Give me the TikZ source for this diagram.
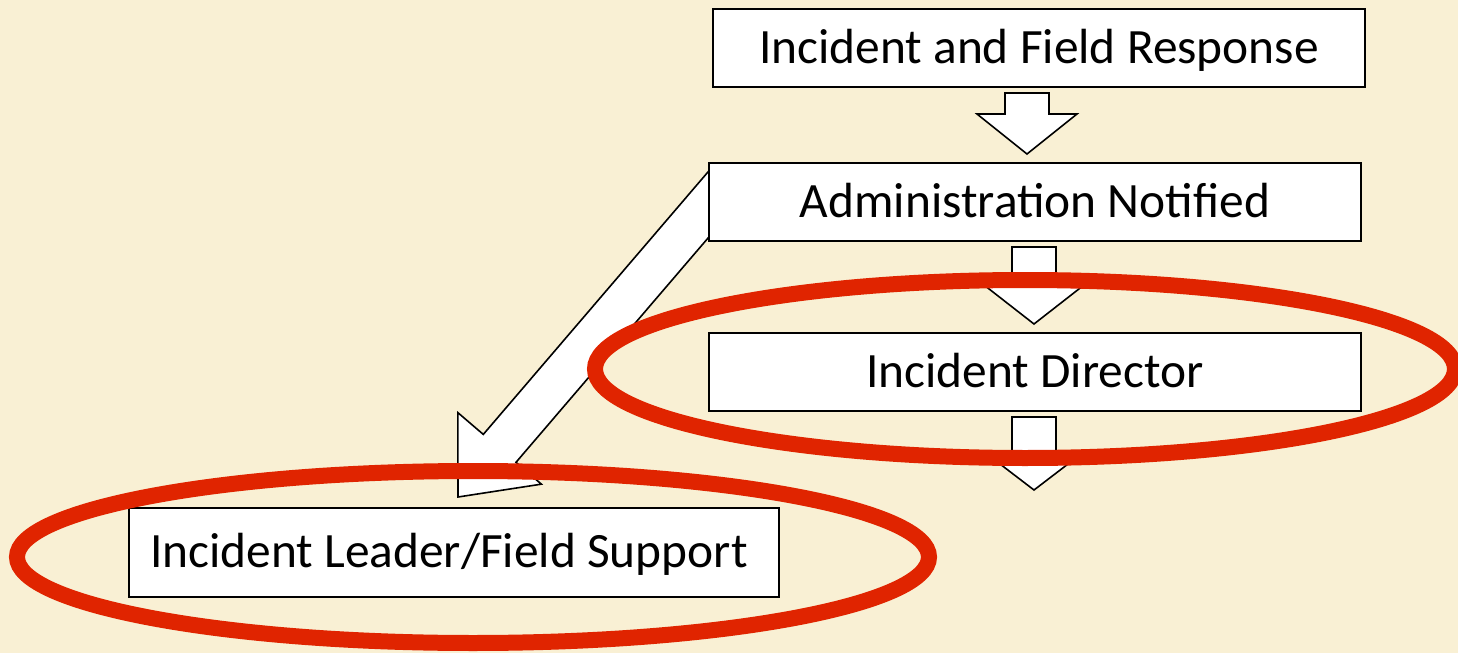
\documentclass[tikz,border=0pt]{standalone}
\usepackage{fontspec}
\setmainfont{Carlito}
\usetikzlibrary{calc}

\definecolor{paper}{RGB}{249,240,212}
\definecolor{ringred}{RGB}{224,36,0}

\pgfdeclarelayer{paperlayer}
\pgfdeclarelayer{arrowlayer}
\pgfsetlayers{paperlayer,arrowlayer,main}

\tikzset{
  stepbox/.style={draw=black, line width=1pt, fill=white, rectangle,
    minimum width=326pt, minimum height=39pt, inner sep=0pt,
    font=\fontsize{24.7}{28}\selectfont, text height=15.3pt, text depth=0pt},
  barrow/.style={draw=black, line width=0.8pt, fill=white, line join=miter},
  ring/.style={draw=ringred, line width=8pt}
}

% block arrow from #1 to tip #2: shaft half-width #3, head half-width #4, head length #5
\newcommand\blockarrow[6]{%
  \path ($(#2)!#5!(#1)$) coordinate (#6-n);
  \draw[barrow] ($(#1)!#3!90:(#2)$) -- ($(#6-n)!#3!90:(#2)$)
    -- ($(#6-n)!#4!90:(#2)$) -- (#2) -- ($(#6-n)!#4!-90:(#2)$)
    -- ($(#6-n)!#3!-90:(#2)$) -- ($(#1)!#3!-90:(#2)$) -- cycle;
}

\begin{document}
\begin{tikzpicture}[x=0.5pt,y=-0.5pt]
  \begin{pgfonlayer}{paperlayer}
    \fill[paper] (0,0) rectangle (1458,653);
  \end{pgfonlayer}
  \useasboundingbox (0,0) rectangle (1458,653);

  % process boxes
  \node[stepbox] (b1) at (1039,48) {Incident and Field Response};
  \node[stepbox] (b2) at (1035,202) {Administration Notified};
  \node[stepbox] (b3) at (1035,372) {Incident Director};
  \node[stepbox, minimum width=325pt, minimum height=44.5pt] (b4) at (454,552.5)
    {Incident Leader/Field Support\hspace*{5pt}};

  % block arrows between the boxes
  \coordinate (a1s) at ($(b1.south)+(-12,5)$);
  \coordinate (a1e) at ($(b2.north)+(-8,-8)$);
  \coordinate (a2s) at ($(b2.south)+(-1,5)$);
  \coordinate (a2e) at ($(b3.north)+(-1,-8)$);
  \coordinate (a3s) at ($(b3.south)+(-1,5)$);
  \coordinate (a3e) at ($(b3.south)+(-1,78)$);
  \coordinate (a4p) at ($(b2.west)+(0,3)$);
  \coordinate (a4e) at ($(b4.north)+(4,-10)$);
  \coordinate (a4s) at ($(a4p)!-14pt!(a4e)$);

  \begin{pgfonlayer}{arrowlayer}
    \blockarrow{a1s}{a1e}{11pt}{25pt}{20pt}{a1}
    \blockarrow{a2s}{a2e}{11pt}{25pt}{19.5pt}{a2}
    \blockarrow{a3s}{a3e}{11pt}{25.5pt}{19.5pt}{a3}
    \blockarrow{a4s}{a4e}{10.75pt}{27.5pt}{32pt}{a4}
  \end{pgfonlayer}

  % red highlight rings
  \draw[ring] ($(b3.center)+(-10,-3)$) ellipse [x radius=215pt, y radius=44.5pt];
  \draw[ring] ($(b4.center)+(19,4.5)$) ellipse [x radius=228pt, y radius=43pt];
\end{tikzpicture}
\end{document}
